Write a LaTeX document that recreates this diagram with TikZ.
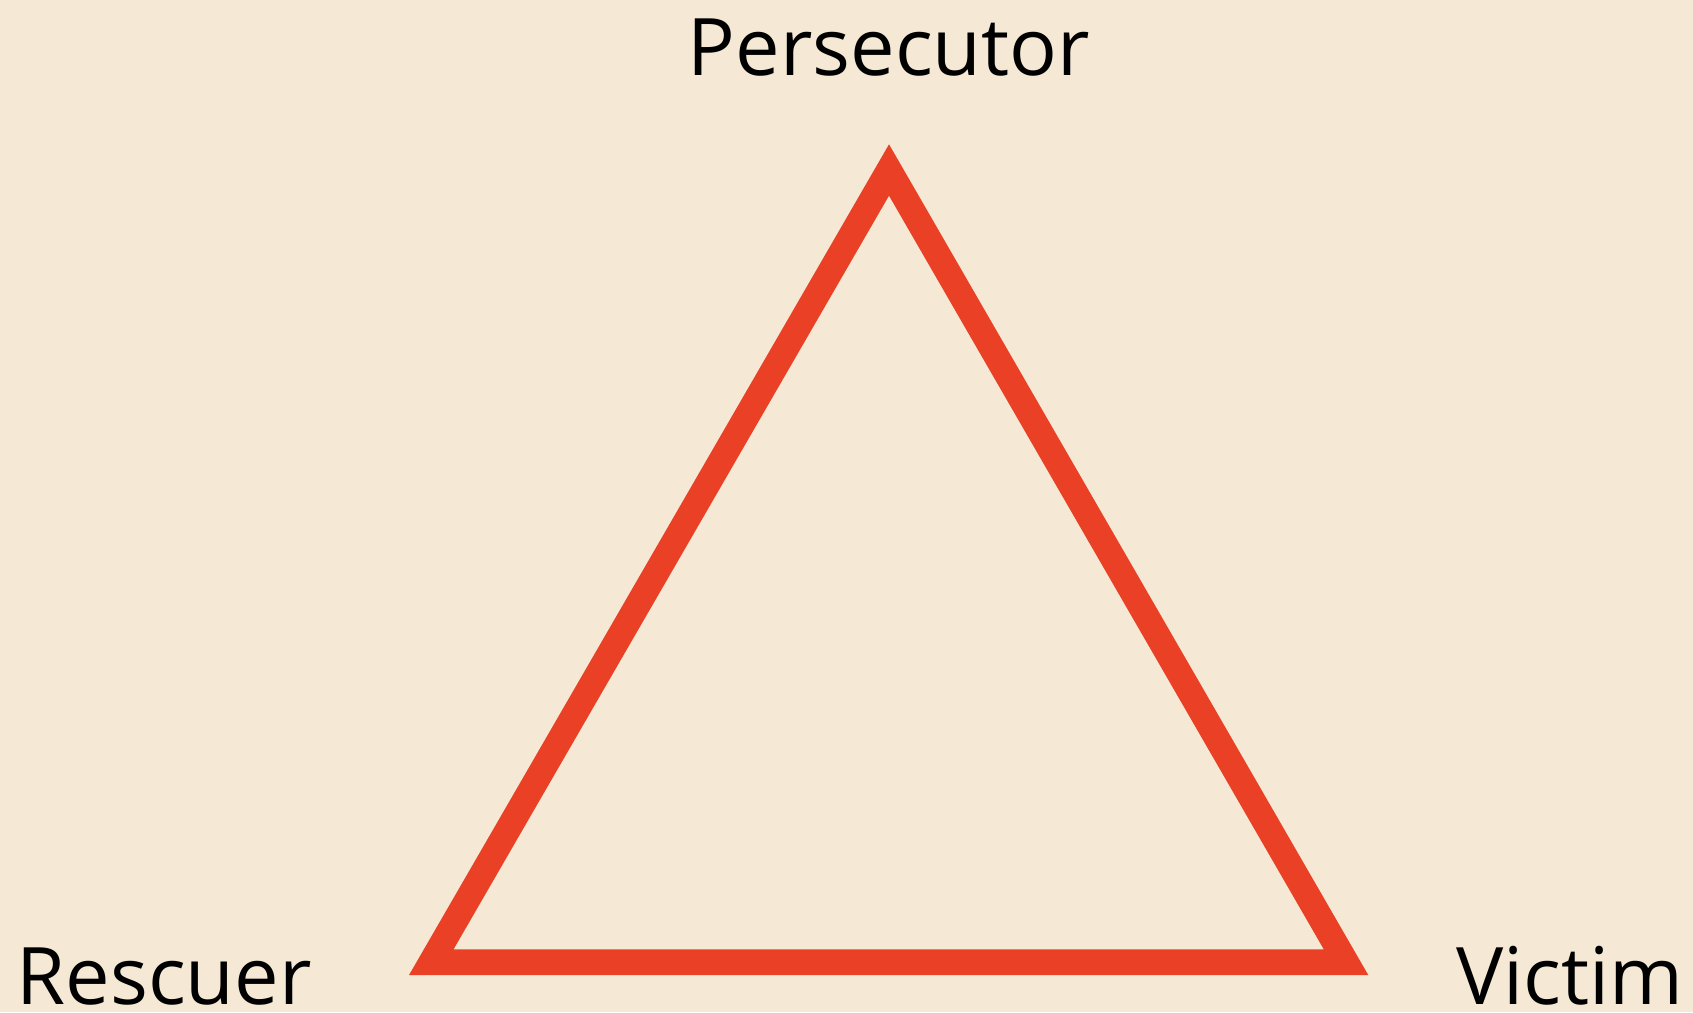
\documentclass[tikz,border=0pt]{standalone}
\usepackage{fontspec}
\setmainfont{Open Sans}
\definecolor{bgc}{RGB}{245,233,213}
\definecolor{tri}{RGB}{234,65,38}
\begin{document}
\begin{tikzpicture}[x=1pt,y=-1pt,
  lbl/.style={inner sep=0pt,font=\fontsize{79.4}{90}\selectfont,text=black}]
\fill[bgc] (0,0) rectangle (1693,1012);
\useasboundingbox (0,0) rectangle (1693,1012);
\coordinate (P) at (889,170);
\coordinate (R) at (431.3,962.15);
\coordinate (V) at (1346,962.15);
\draw[tri,line width=25.7pt,line join=miter,miter limit=10] (P) -- (R) -- (V) -- cycle;
\node[lbl,anchor=base] (pers) at (889,75) {Persecutor};
\node[lbl,anchor=base west] (resc) at (16.5,1004) {Rescuer};
\node[lbl,anchor=base east] (vict) at (1683.5,1004) {Victim};
\end{tikzpicture}
\end{document}
